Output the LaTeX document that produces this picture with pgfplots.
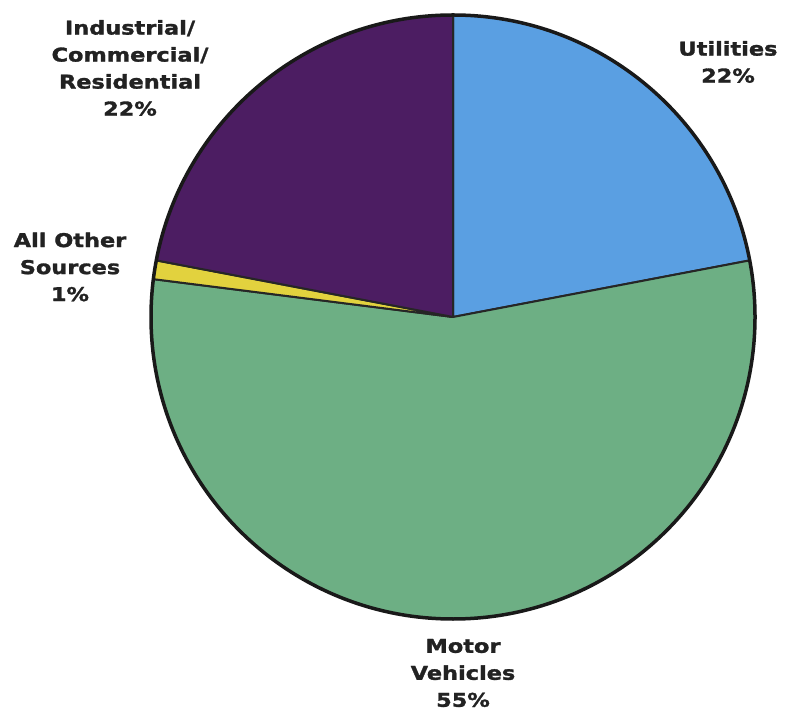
\documentclass[border=0pt]{standalone}
\usepackage{fontspec}
\setmainfont{DejaVu Sans}[BoldFeatures={FakeStretch=1.18, FakeBold=1.6}]
\usepackage{pgfplots}
\usepackage{pgfplotstable}
\pgfplotsset{compat=1.18}

\definecolor{utilcol}{HTML}{5A9FE2}
\definecolor{motorcol}{HTML}{6DAF84}
\definecolor{othercol}{HTML}{E2D23E}
\definecolor{indcol}{HTML}{4C1D62}
\definecolor{labcol}{HTML}{222222}

\tikzset{lab/.style={font=\fontsize{19}{27}\selectfont\bfseries, text=labcol, align=center}}

% shares in percent, clockwise from 12 o'clock
\pgfplotstableread{
value color
22 utilcol
55 motorcol
1 othercol
22 indcol
}\piedata

\begin{document}
\begin{tikzpicture}
\begin{axis}[
	x=1pt, y=1pt,
	xmin=0, xmax=786, ymin=0, ymax=712,
	hide axis, clip=false,
]
	\pgfplotsextra{
		\pgfplotstablegetrowsof{\piedata}
		\pgfmathtruncatemacro\lastrow{\pgfplotsretval-1}
		\xdef\angA{90}
		\foreach \i in {0,...,\lastrow}{
			\pgfplotstablegetelem{\i}{value}\of\piedata
			\let\val\pgfplotsretval
			\pgfplotstablegetelem{\i}{color}\of\piedata
			\let\col\pgfplotsretval
			\pgfmathsetmacro\angB{\angA-3.6*\val}
			\filldraw[fill=\col, draw=black!85, line width=2pt, line join=round]
				(axis cs:453,395) -- ++(\angA:302pt)
				arc[start angle=\angA, end angle=\angB, radius=302pt] -- cycle;
			\xdef\angA{\angB}
		}
		\draw[black!90, line width=3.5pt] (axis cs:453,395) circle[radius=302pt];
	}

	\node[lab] at (axis cs:130,644) {Industrial/\\Commercial/\\Residential\\22\%};
	\node[lab] at (axis cs:70,445) {All Other\\Sources\\1\%};
	\node[lab] at (axis cs:728,650) {Utilities\\22\%};
	\node[lab] at (axis cs:463,39) {Motor\\Vehicles\\55\%};
\end{axis}
\pgfresetboundingbox
\path (0,0) rectangle (786pt,712pt);
\end{tikzpicture}
\end{document}
